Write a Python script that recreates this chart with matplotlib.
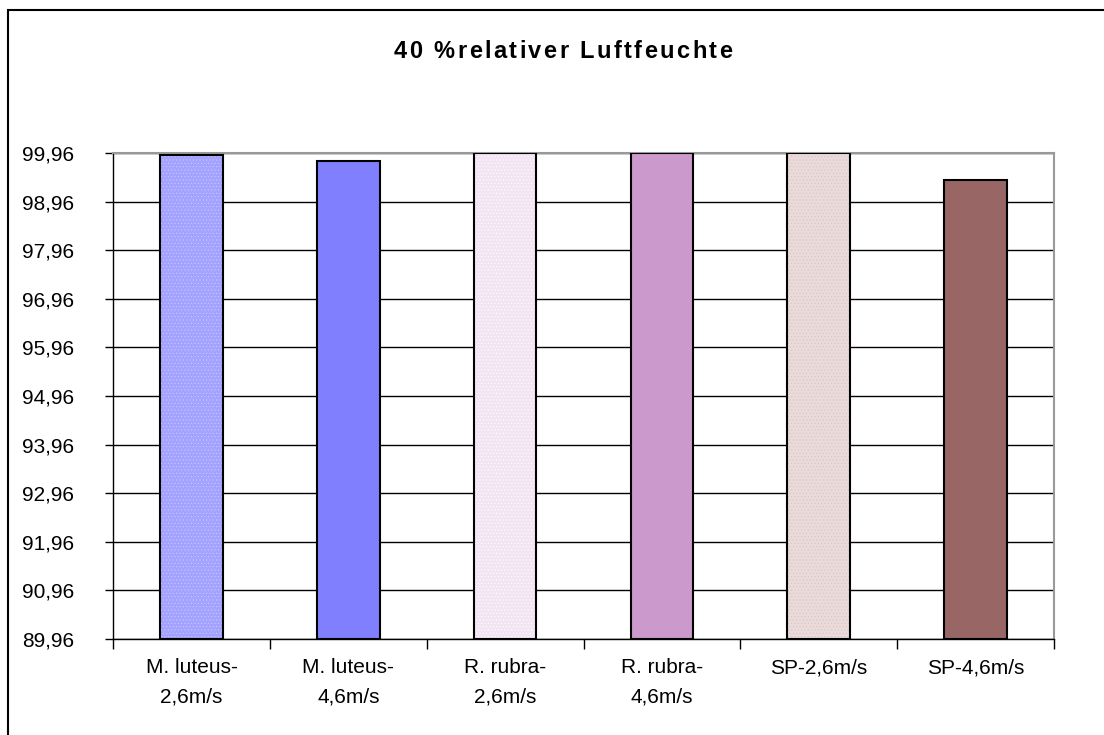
import matplotlib.pyplot as plt
import matplotlib.patches as mpatches
import numpy as np

plt.rcParams['font.family'] = ['Liberation Sans', 'DejaVu Sans']
plt.rcParams['hatch.linewidth'] = 0.4

# Daten
kategorien = ['M. luteus-\n2,6m/s', 'M. luteus-\n4,6m/s', 'R. rubra-\n2,6m/s',
              'R. rubra-\n4,6m/s', 'SP-2,6m/s', 'SP-4,6m/s']
werte = [99.92, 99.80, 99.96, 99.96, 99.96, 99.40]
farben = ['#A3A3FF', '#8080FF', '#F2E4F2', '#CC99CC', '#EADADA', '#996666']
muster = ['.....', '', '.....', '', '.....', '']
musterfarben = ['#C8C8FF', '#8080FF', '#FFFFFF', '#CC99CC', '#D8C4C4', '#996666']
y_ticks = [89.96, 90.96, 91.96, 92.96, 93.96, 94.96, 95.96, 96.96, 97.96, 98.96, 99.96]
y_labels = ['89,96', '90,96', '91,96', '92,96', '93,96', '94,96',
            '95,96', '96,96', '97,96', '98,96', '99,96']
titel = '40 %relativer Luftfeuchte'

fig = plt.figure(figsize=(11.04, 7.35), dpi=100)
ax = fig.add_axes([0.1024, 0.1306, 0.8523, 0.6612])

# aeusserer Rahmen (nur links und oben sichtbar)
fig.patches.append(mpatches.Rectangle((8 / 1104, -0.1), 1.2, (735 - 10) / 735 + 0.1,
                                      transform=fig.transFigure, fill=False,
                                      edgecolor='black', linewidth=1.5))

x = np.arange(len(kategorien))
for i in range(len(kategorien)):
    # Fuellung mit Muster
    ax.bar(x[i], werte[i] - y_ticks[0], bottom=y_ticks[0], width=0.4,
           color=farben[i], edgecolor=musterfarben[i], linewidth=0,
           hatch=muster[i], zorder=3)
    # Umriss
    ax.bar(x[i], werte[i] - y_ticks[0], bottom=y_ticks[0], width=0.4,
           fill=False, edgecolor='black', linewidth=1.5, zorder=4)

ax.set_xlim(-0.5, len(kategorien) - 0.5)
ax.set_ylim(y_ticks[0], y_ticks[-1])
ax.set_yticks(y_ticks)
ax.set_yticklabels(y_labels, fontsize=15)
ax.yaxis.grid(True, color='black', linewidth=1, zorder=0)

ax.set_xticks(x)
ax.set_xticklabels(kategorien, fontsize=15, linespacing=1.7)
ax.tick_params(axis='x', length=0, pad=14)
ax.set_xticks(np.arange(len(kategorien) + 1) - 0.5, minor=True)
ax.tick_params(axis='x', which='minor', length=7, width=1, direction='out')
ax.tick_params(axis='y', length=6, width=1, direction='out', pad=22)

for s in ['top', 'right']:
    ax.spines[s].set_color('#999999')
    ax.spines[s].set_linewidth(1.5)
for s in ['left', 'bottom']:
    ax.spines[s].set_color('black')
    ax.spines[s].set_linewidth(1)

# Titel mit Zeichenabstand
renderer = fig.canvas.get_renderer()
abstand = 2.4  # px
breiten = []
for ch in titel:
    t = fig.text(0, 0, ch if ch != ' ' else 'a a', fontsize=17, fontweight='bold')
    w = t.get_window_extent(renderer).width
    if ch == ' ':
        t2 = fig.text(0, 0, 'aa', fontsize=17, fontweight='bold')
        w = w - t2.get_window_extent(renderer).width
        t2.remove()
    t.remove()
    breiten.append(w + abstand)
gesamt = sum(breiten) - abstand
pos = 563 - gesamt / 2
for ch, w in zip(titel, breiten):
    fig.text(pos / 1104, 1 - 52 / 735, ch, ha='left', va='center',
             fontsize=17, fontweight='bold')
    pos += w

fig.savefig('out.png', dpi=100)
